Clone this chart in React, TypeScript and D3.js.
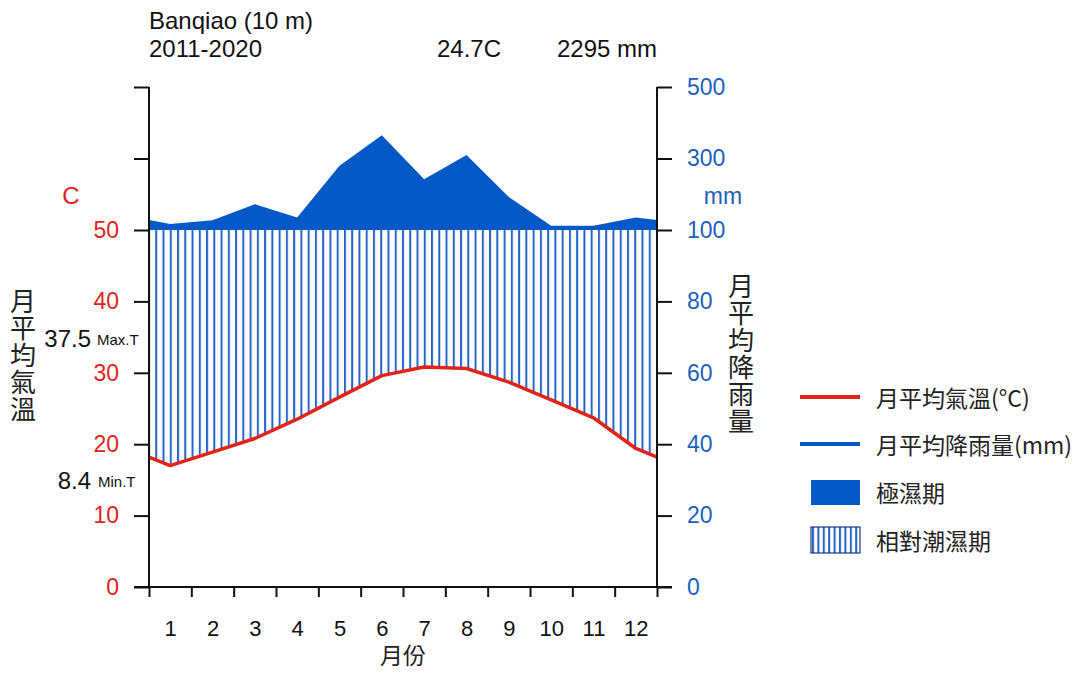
import { useEffect, useRef } from "react";
import * as d3 from "d3";

// Walter-Lieth style climate diagram, Banqiao 2011-2020
const months = ["1", "2", "3", "4", "5", "6", "7", "8", "9", "10", "11", "12"];
const monthlyTemp = [17.0, 18.9, 20.8, 23.5, 26.6, 29.6, 30.8, 30.6, 28.7, 26.2, 23.7, 19.4];
const monthlyPrecip = [117, 127, 172, 135, 280, 365, 242, 310, 192, 112, 112, 135];
// values read where the curves meet the two y axes
const edgeTemp = 18.2;
const edgePrecip = 128;

const tempTicks = [0, 10, 20, 30, 40, 50];
const precipTicks = [0, 20, 40, 60, 80, 100, 300, 500];

const stationName = "Banqiao (10 m)";
const period = "2011-2020";
const meanTempText = "24.7C";
const totalPrecipText = "2295 mm";
const maxTempText = "37.5";
const minTempText = "8.4";
const tempTitle = "月平均氣溫";
const precipTitle = "月平均降雨量";
const legendItems = ["月平均氣溫(°C)", "月平均降雨量(mm)", "極濕期", "相對潮濕期"];

const W = 1087;
const H = 673;
const left = 149;
const right = 657;
const bottom = 587;
const top = 87;

const RED = "#e2231a";
const BLUE = "#0459c6";
const HATCH = "#2563c9";
const BLUE_TEXT = "#1d5fbf";
const FONT = "'Liberation Sans', Arial, 'Noto Sans CJK TC', sans-serif";
const CJK = "'Noto Sans CJK TC', 'Liberation Sans', sans-serif";

interface Pt {
  m: number;
  t: number;
  p: number;
}

const points: Pt[] = [
  { m: 0, t: edgeTemp, p: edgePrecip },
  ...months.map((_, i) => ({ m: i + 0.5, t: monthlyTemp[i], p: monthlyPrecip[i] })),
  { m: 12, t: edgeTemp, p: edgePrecip },
];

export default function App() {
  const axesRef = useRef<SVGGElement>(null);

  const x = d3.scaleLinear().domain([0, 12]).range([left, right]);
  const yP = d3.scaleLinear().domain([0, 100, 500]).range([bottom, 230, top]);
  const yT = d3.scaleLinear().domain([0, 50]).range([bottom, yP(100)]);

  // hatched humid period: between temperature curve and the 100 mm line
  const humidArea = d3
    .area<Pt>()
    .x((d) => x(d.m))
    .y0((d) => yT(d.t))
    .y1((d) => yP(Math.min(d.p, 100)));

  // solid perhumid period: rainfall above 100 mm
  const wetArea = d3
    .area<Pt>()
    .x((d) => x(d.m))
    .y0(() => yP(100))
    .y1((d) => yP(Math.max(d.p, 100)));

  const tempLine = d3
    .line<Pt>()
    .x((d) => x(d.m))
    .y((d) => yT(d.t));

  useEffect(() => {
    const g = d3.select(axesRef.current);
    g.selectAll("*").remove();

    const style = (sel: any, color: string, size: number) => {
      sel.attr("font-family", FONT).attr("font-size", size);
      sel.selectAll("line").attr("stroke", "#111").attr("stroke-width", 2);
      sel.selectAll("text").attr("fill", color);
      sel.select(".domain").remove();
    };

    // left temperature axis
    const la = g
      .append("g")
      .attr("transform", `translate(${left},0)`)
      .call(d3.axisLeft(yT).tickValues(tempTicks).tickSize(15).tickPadding(15));
    style(la, RED, 23);

    const laTop = g
      .append("g")
      .attr("transform", `translate(${left},0)`)
      .call(
        d3
          .axisLeft(yP)
          .tickValues([300, 500])
          .tickSize(15)
          .tickFormat(() => "")
      );
    style(laTop, RED, 23);

    // right precipitation axis
    const ra = g
      .append("g")
      .attr("transform", `translate(${right},0)`)
      .call(d3.axisRight(yP).tickValues(precipTicks).tickSize(15).tickPadding(15));
    style(ra, BLUE_TEXT, 23);

    // bottom month ticks and labels
    const ba = g
      .append("g")
      .attr("transform", `translate(0,${bottom})`)
      .call(
        d3
          .axisBottom(x)
          .tickValues(d3.range(13))
          .tickSize(10)
          .tickFormat(() => "")
      );
    style(ba, "#111", 22);

    const bl = g
      .append("g")
      .attr("transform", `translate(0,${bottom})`)
      .call(
        d3
          .axisBottom(x)
          .tickValues(months.map((_, i) => i + 0.5))
          .tickSize(0)
          .tickPadding(33)
          .tickFormat((_, i) => months[i])
      );
    style(bl, "#111", 22);

    // axis lines
    g.append("line")
      .attr("x1", left).attr("x2", left).attr("y1", top).attr("y2", bottom)
      .attr("stroke", "#111").attr("stroke-width", 2);
    g.append("line")
      .attr("x1", right).attr("x2", right).attr("y1", top).attr("y2", bottom)
      .attr("stroke", "#111").attr("stroke-width", 2);
    g.append("line")
      .attr("x1", left - 15).attr("x2", right + 15).attr("y1", bottom).attr("y2", bottom)
      .attr("stroke", "#111").attr("stroke-width", 2);
  }, []);

  const step = (right - left) / 70;

  return (
    <div style={{ position: "absolute", left: 0, top: 0 }}>
      <svg width={W} height={H} style={{ display: "block", background: "#fff" }}>
        <defs>
          <pattern id="hatch" patternUnits="userSpaceOnUse" x={left - 1} y={0} width={step} height={10}>
            <rect x={0} y={0} width={2} height={10} fill={HATCH} />
          </pattern>
          <pattern id="hatchLegend" patternUnits="userSpaceOnUse" x={812} y={0} width={5.4} height={10}>
            <rect x={0} y={0} width={2} height={10} fill={HATCH} />
          </pattern>
        </defs>

        <path d={humidArea(points) ?? ""} fill="url(#hatch)" />
        <path d={wetArea(points) ?? ""} fill={BLUE} />
        <path d={tempLine(points) ?? ""} fill="none" stroke={RED} strokeWidth={3.5} strokeLinejoin="round" />

        <g ref={axesRef} />

        {/* header */}
        <g fontFamily={FONT} fontSize={24} fill="#111">
          <text x={left} y={29}>{stationName}</text>
          <text x={left} y={57}>{period}</text>
          <text x={437} y={57}>{meanTempText}</text>
          <text x={557} y={57}>{totalPrecipText}</text>
        </g>

        {/* axis units and extremes */}
        <text x={71} y={195} fontFamily={FONT} fontSize={24} fill={RED} textAnchor="middle" dominantBaseline="central">C</text>
        <text x={723} y={196} fontFamily={FONT} fontSize={23} fill={BLUE_TEXT} textAnchor="middle" dominantBaseline="central">mm</text>
        <g fontFamily={FONT} fill="#111" dominantBaseline="central">
          <text x={91} y={338} fontSize={24} textAnchor="end">{maxTempText}</text>
          <text x={97} y={339} fontSize={15}>Max.T</text>
          <text x={91} y={480} fontSize={24} textAnchor="end">{minTempText}</text>
          <text x={98} y={481} fontSize={15}>Min.T</text>
        </g>

        {/* vertical titles */}
        <g fontFamily={CJK} fontSize={26} fill="#222" style={{ writingMode: "vertical-rl", letterSpacing: "1px" }}>
          <text x={23} y={288}>{tempTitle}</text>
          <text x={741} y={273}>{precipTitle}</text>
        </g>
        <text x={403} y={664} fontFamily={CJK} fontSize={23} fill="#222" textAnchor="middle">月份</text>

        {/* legend */}
        <line x1={800} x2={860} y1={397} y2={397} stroke={RED} strokeWidth={4} />
        <line x1={800} x2={860} y1={444} y2={444} stroke={BLUE} strokeWidth={4} />
        <rect x={811} y={480} width={49} height={25} fill={BLUE} />
        <rect x={811} y={527} width={49} height={26} fill="url(#hatchLegend)" stroke="#1b3a78" strokeWidth={1.2} />
        <g fontFamily={CJK} fontSize={23} fill="#222" dominantBaseline="central">
          {legendItems.map((s, i) => (
            <text key={s} x={876} y={[397, 444, 492, 540][i]}>{s}</text>
          ))}
        </g>
      </svg>
    </div>
  );
}
